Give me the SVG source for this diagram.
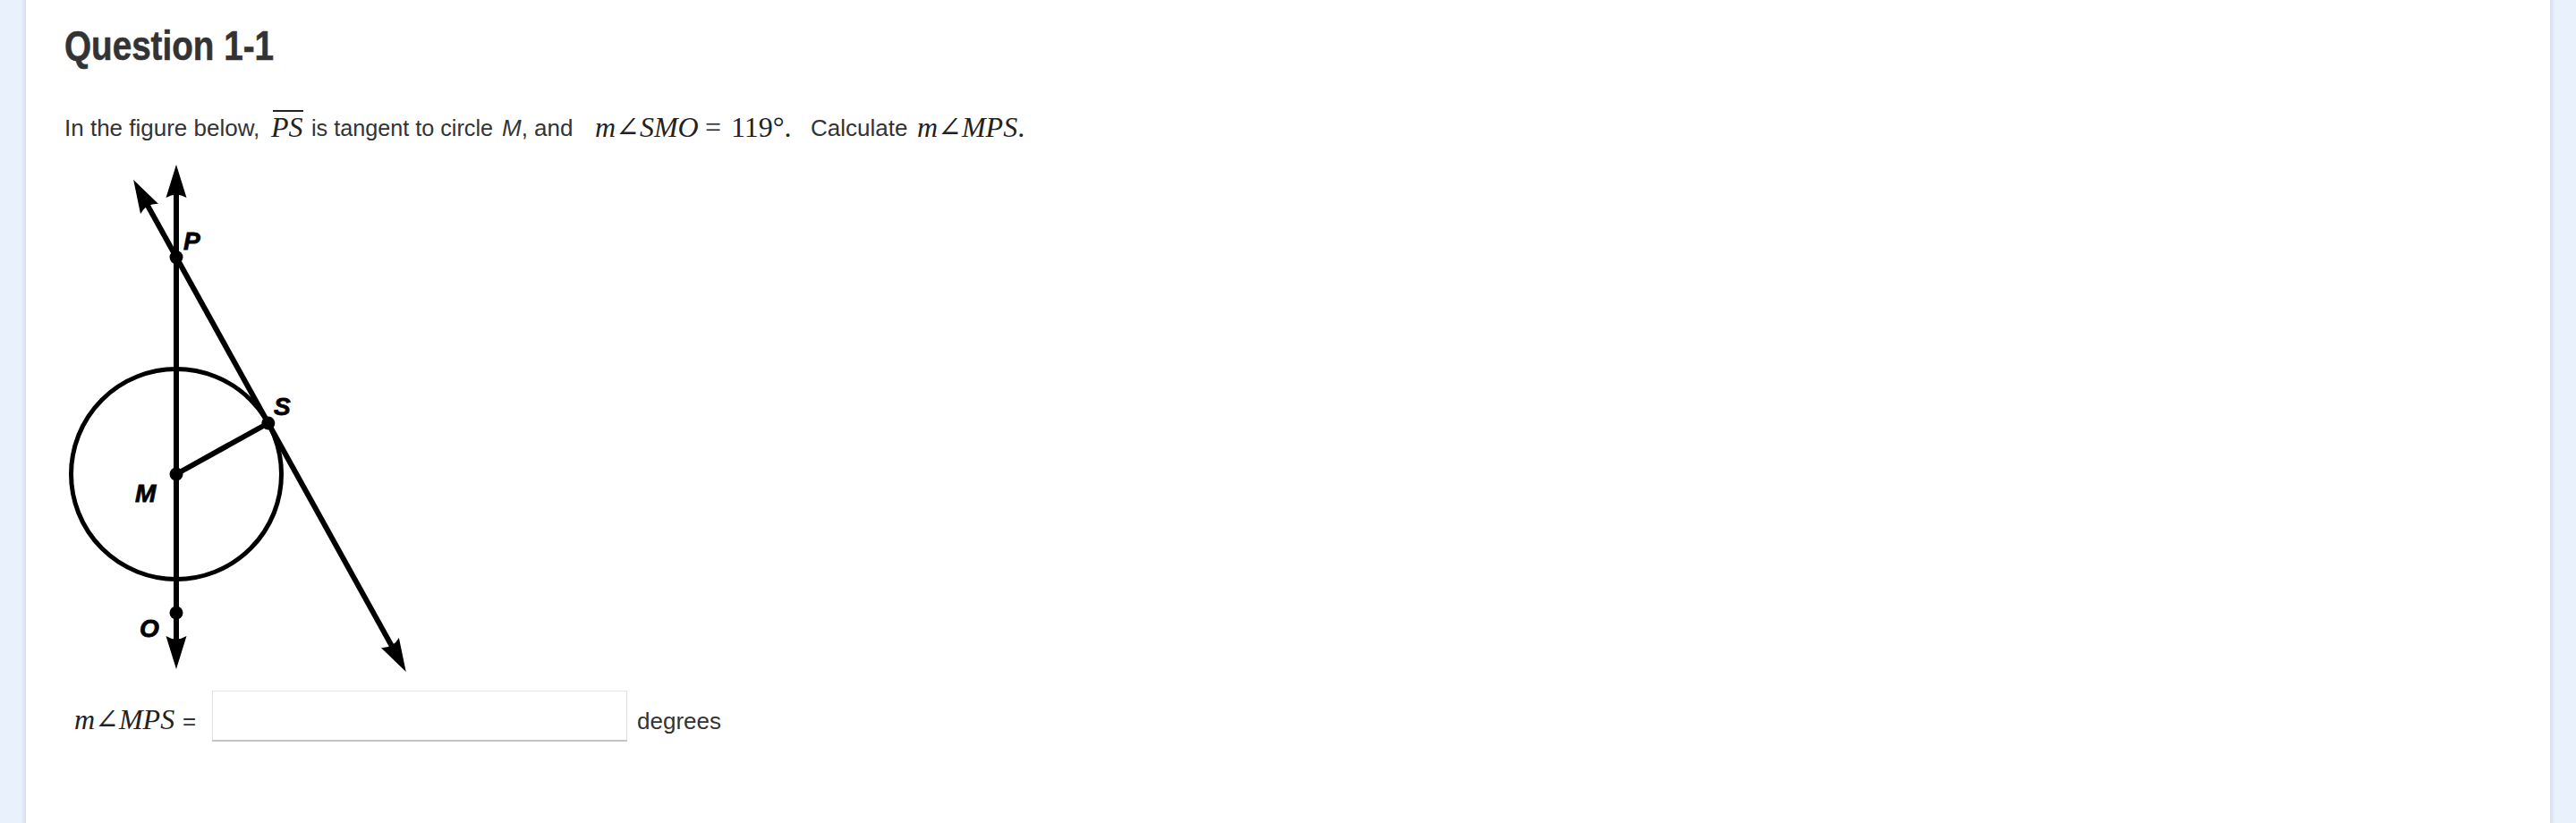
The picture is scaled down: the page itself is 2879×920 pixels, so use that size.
<svg xmlns="http://www.w3.org/2000/svg" width="2879" height="920" viewBox="0 0 2879 920">
<style>
.sans{font-family:"Liberation Sans",Arial,sans-serif;fill:#333333;}
.title{font-size:46px;font-weight:bold;stroke:#333333;stroke-width:0.6;}
.body{font-size:26px;}
.math{font-family:"Liberation Serif","DejaVu Serif",serif;font-size:32px;fill:#222222;}
.it{font-style:italic;}
.lbl{font-family:"Liberation Sans",Arial,sans-serif;font-size:28px;font-weight:bold;font-style:italic;fill:#000;stroke:#000;stroke-width:0.8;}
.ln{stroke:#000;stroke-width:6;fill:none;}
.dot{fill:#000;}
</style>
<defs>
<marker id="arr" markerUnits="userSpaceOnUse" markerWidth="60" markerHeight="30" viewBox="0 0 60 30" refX="35" refY="15" orient="auto-start-reverse" overflow="visible">
<path d="M51,15 L14,3.5 Q21,15 14,26.5 Z" fill="#000"/>
</marker>
<linearGradient id="shL" x1="0" x2="1" y1="0" y2="0">
<stop offset="0" stop-color="#e6effa"/>
<stop offset="1" stop-color="#d5deea"/>
</linearGradient>
<linearGradient id="shR" x1="1" x2="0" y1="0" y2="0">
<stop offset="0" stop-color="#e6effa"/>
<stop offset="1" stop-color="#d5deea"/>
</linearGradient>
</defs>
<rect x="0" y="0" width="2879" height="920" fill="#e8f1fc"/>
<rect x="24" y="0" width="5" height="920" fill="url(#shL)"/>
<rect x="2850" y="0" width="5" height="920" fill="url(#shR)"/>
<rect x="29" y="0" width="2821" height="920" fill="#ffffff"/>

<g id="title">
<text class="sans title" x="72" y="67" textLength="234" lengthAdjust="spacingAndGlyphs">Question 1-1</text>
</g>

<g id="question">
<text class="sans body" x="72" y="152">In the figure below,</text>
<text class="math it" x="303" y="153">PS</text>
<line x1="305" y1="124" x2="339" y2="124" stroke="#222" stroke-width="2"/>
<text class="sans body" x="348" y="152" textLength="203" lengthAdjust="spacingAndGlyphs">is tangent to circle</text>
<text class="sans body" x="561" y="152"><tspan font-style="italic">M</tspan>, and</text>
<text class="math" x="665" y="153"><tspan class="it">m</tspan>∠<tspan class="it">SMO</tspan></text>
<text class="math" x="788" y="153">=</text>
<text class="math" x="817" y="153">119°.</text>
<text class="sans body" x="906" y="152">Calculate</text>
<text class="math" x="1025" y="153"><tspan class="it">m</tspan>∠<tspan class="it">MPS</tspan>.</text>
</g>

<g id="connectors">
<line class="ln" x1="197" y1="200" x2="197" y2="732" marker-start="url(#arr)" marker-end="url(#arr)"/>
<line class="ln" x1="156.9" y1="215.1" x2="446" y2="736.9" marker-start="url(#arr)" marker-end="url(#arr)"/>
<line class="ln" x1="197" y1="530" x2="299.8" y2="473"/>
</g>

<g id="circle-M">
<circle cx="197" cy="530" r="117.5" fill="none" stroke="#000" stroke-width="5"/>
</g>

<g id="point-P">
<circle class="dot" cx="197" cy="287.6" r="7.5"/>
<text class="lbl" x="205" y="279">P</text>
</g>
<g id="point-S">
<circle class="dot" cx="299.8" cy="473" r="7.5"/>
<text class="lbl" x="306" y="464">S</text>
</g>
<g id="point-M">
<circle class="dot" cx="197" cy="530" r="7.5"/>
<text class="lbl" x="151" y="561">M</text>
</g>
<g id="point-O">
<circle class="dot" cx="197" cy="685" r="7.5"/>
<text class="lbl" x="156" y="712">O</text>
</g>

<g id="answer">
<text class="math" x="83" y="815"><tspan class="it">m</tspan>∠<tspan class="it">MPS</tspan></text>
<text class="sans body" x="204" y="815">=</text>
<rect x="237.5" y="772.5" width="463" height="56" fill="#ffffff" stroke="#e2e2e2" stroke-width="1"/>
<line x1="237" y1="828" x2="701" y2="828" stroke="#c4c4c4" stroke-width="2"/>
<text class="sans body" x="712" y="815">degrees</text>
</g>
</svg>
